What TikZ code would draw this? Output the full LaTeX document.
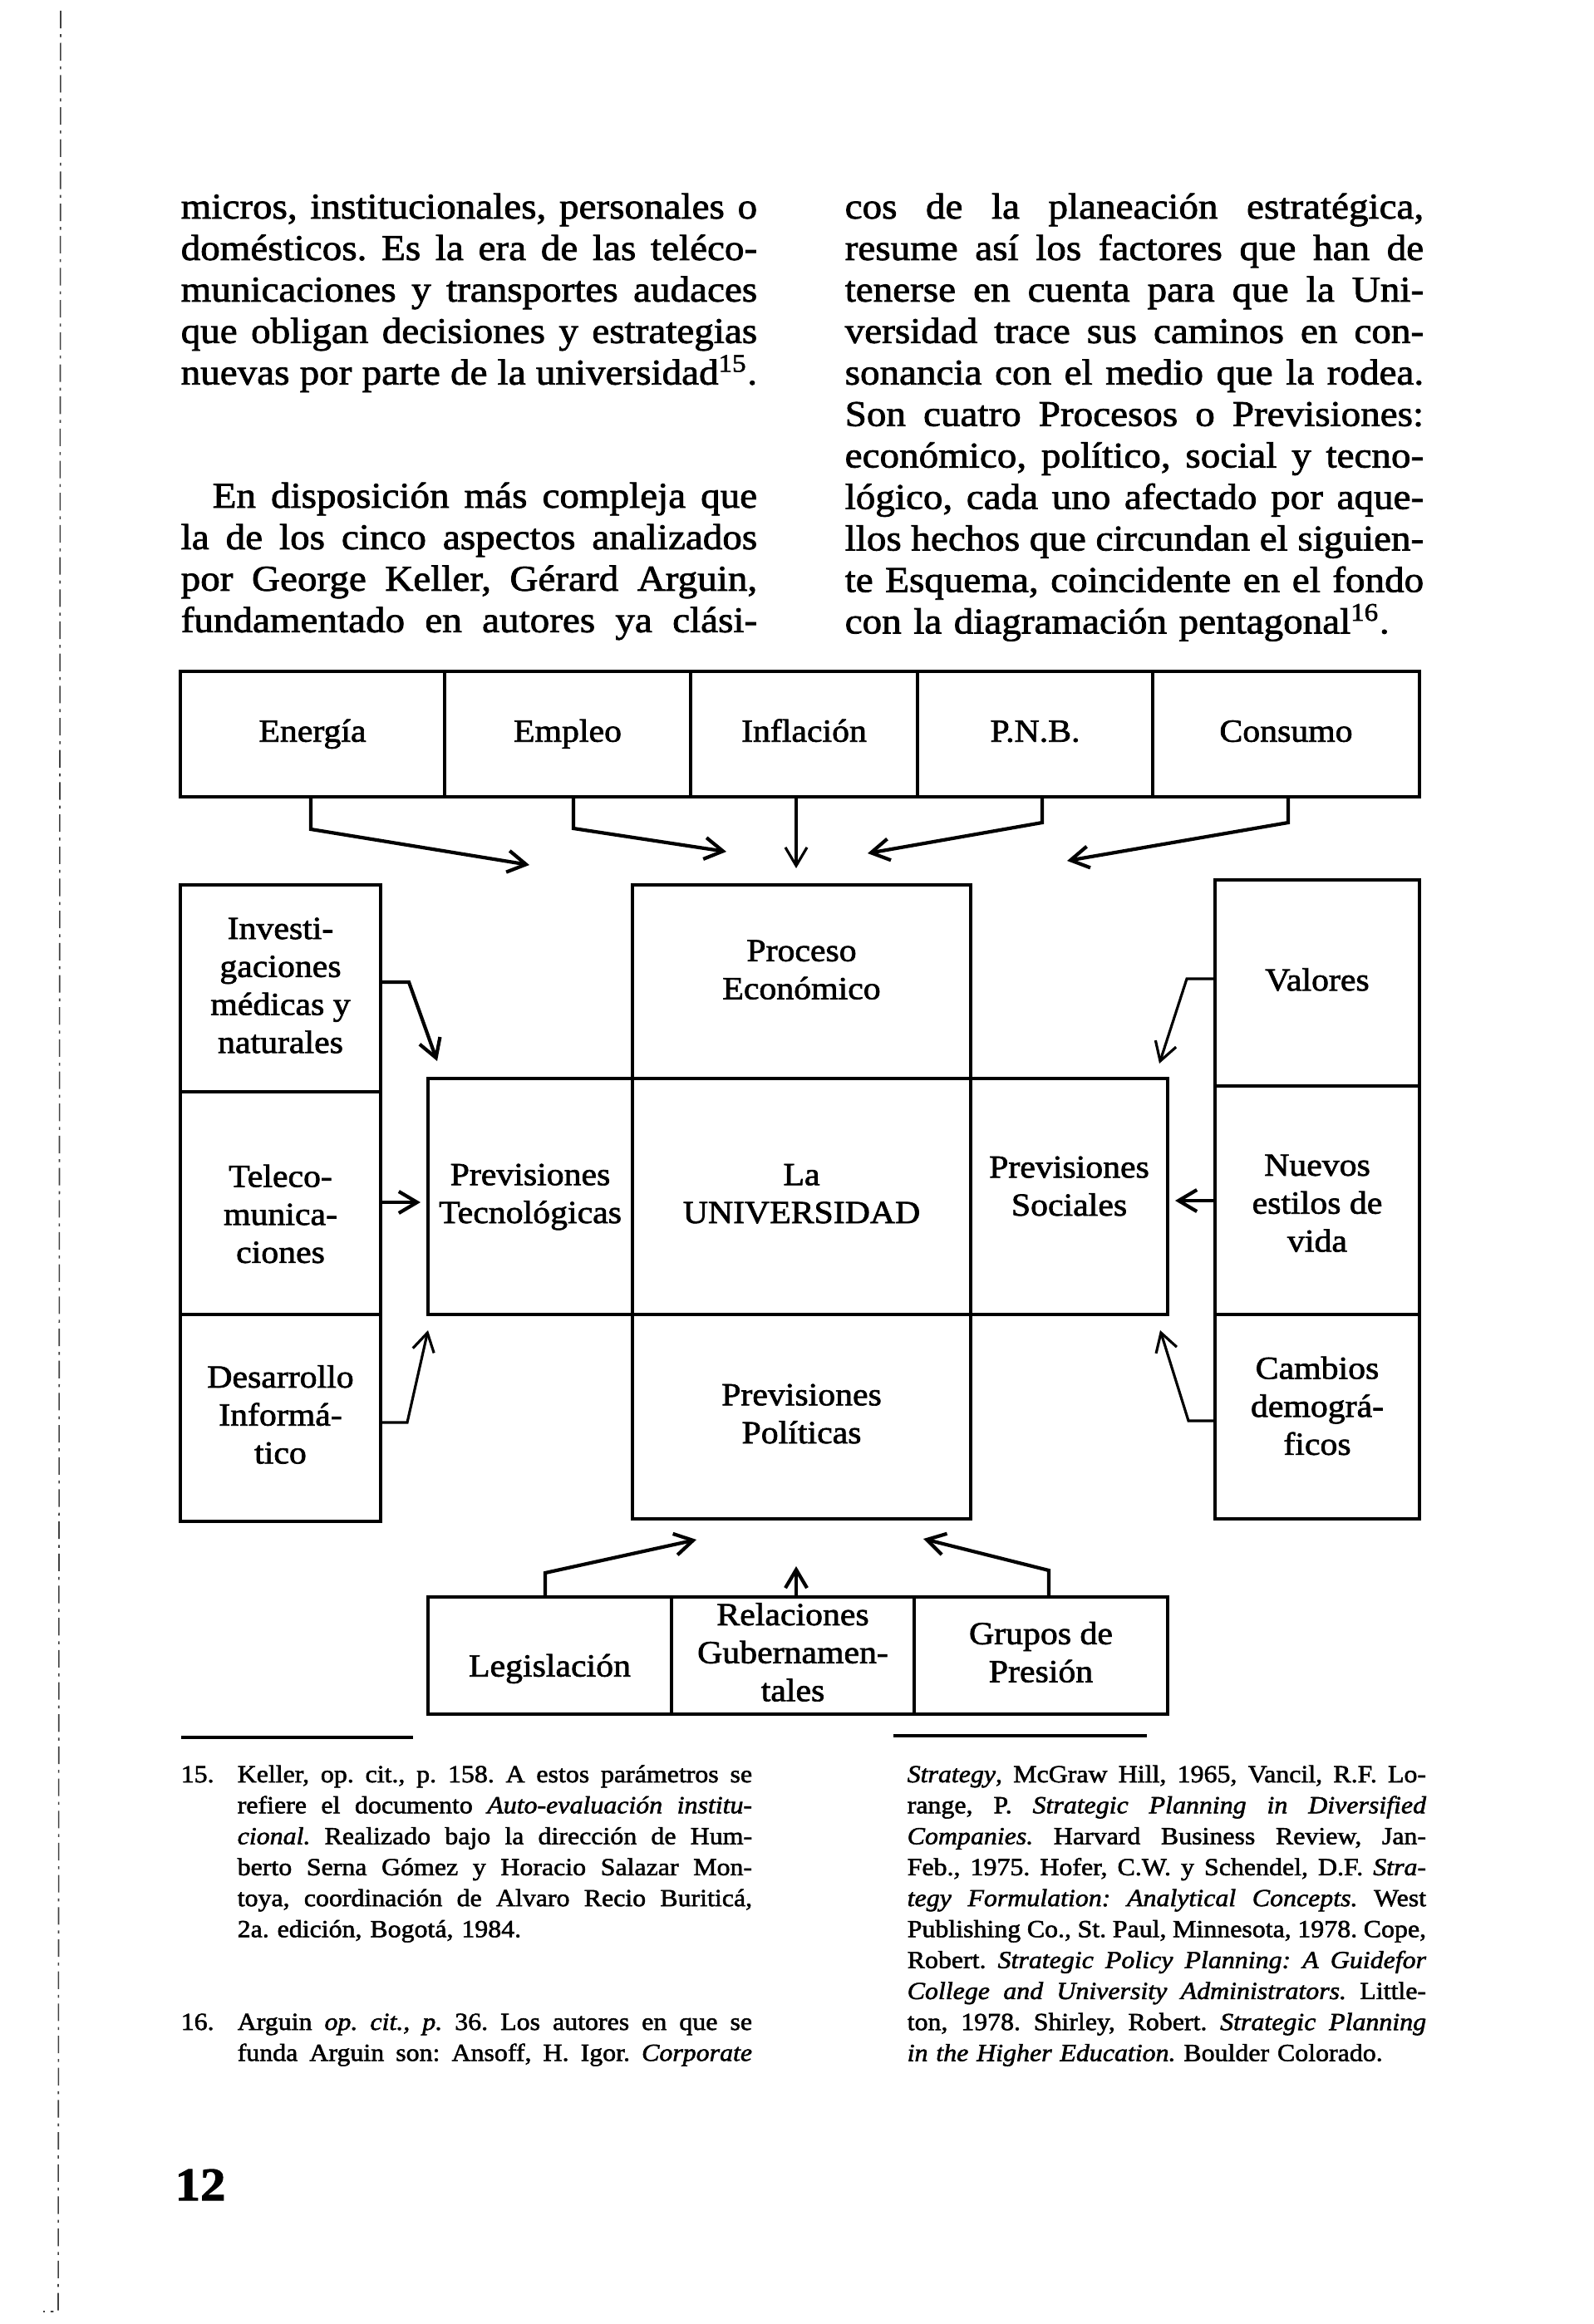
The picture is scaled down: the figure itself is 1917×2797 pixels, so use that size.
\documentclass[tikz,border=0pt]{standalone}
\usepackage{fontspec}
\setmainfont{Liberation Serif}[FakeStretch=1.08,FakeBold=1.8]
\usetikzlibrary{arrows.meta}
\newcommand\dgfont{\fontsize{11}{13}\selectfont}
\newcommand\bdfont{\fontsize{12.4}{14.2}\selectfont\frenchspacing}
\newcommand\ntfont{\fontsize{8.4}{10.6}\selectfont\frenchspacing}
\newlength\colw
\newcommand\jbox[1]{\makebox[\colw][s]{\spaceskip=.25em plus 1fil minus .1em\xspaceskip=\spaceskip #1}}
\newcommand\jline[1]{\jbox{#1}\\}
\newcommand\jlast[1]{\jbox{#1}}
% vertical fine-tuning of box texts
\newcommand\tup[1]{\rule[-\dimexpr 3.9pt+#1\relax]{0pt}{0pt}}
\newcommand\tdn[1]{\rule{0pt}{\dimexpr 9.1pt+#1\relax}}
\newcommand\placebox[6]{%
  \pgfmathsetmacro\bw{(#4-#2)*0.01}%
  \pgfmathsetmacro\bh{(#5-#3)*0.01}%
  \node[box, minimum width=\bw cm, minimum height=\bh cm] (#1) at ({(#2+#4)/2},{(#3+#5)/2}) {\strut#6\strut};}
\tikzset{
  box/.style={draw, line width=1pt, inner sep=0pt, align=center, font=\dgfont},
  conn/.style={line width=0.9pt, -{Straight Barb[length=2.2mm,width=2.6mm]}},
  thickconn/.style={conn, line width=1.2pt},
  bodytext/.style={anchor=base west, inner sep=0pt, align=left, font=\bdfont},
  notetext/.style={anchor=base west, inner sep=0pt, align=left, font=\ntfont},
  rule/.style={line width=1.1pt},
  margin/.style={line width=0.45pt, black!75, dash pattern=on 6pt off 2pt on 1pt off 2pt}
}
\begin{document}
\begin{tikzpicture}[x=0.01cm,y=-0.01cm]
\useasboundingbox (0,0) rectangle (1917,2797);

% margin line (scan edge)
\coordinate (m1) at (73,13);
\coordinate (m2) at (70,2782);
\coordinate (m3) at (52,2782);
\draw[margin] (m1) -- (m2) -- (m3);

% body text
\setlength\colw{6.93cm}
\node[bodytext, text width=6.93cm] (p1) at (217,263) {%
\jline{micros, institucionales, personales o}
\jline{domésticos. Es la era de las teléco-}
\jline{municaciones y transportes audaces}
\jline{que obligan decisiones y estrategias}
\jlast{nuevas por parte de la universidad\textsuperscript{15}.}};

\node[bodytext, text width=6.93cm] (p2) at (217,611) {%
\jline{\hspace*{0.38cm}En disposición más compleja que}
\jline{la de los cinco aspectos analizados}
\jline{por George Keller, Gérard Arguin,}
\jlast{fundamentado en autores ya clási-}};

\setlength\colw{6.96cm}
\node[bodytext, text width=6.96cm] (p3) at (1016,263) {%
\jline{cos de la planeación estratégica,}
\jline{resume así los factores que han de}
\jline{tenerse en cuenta para que la Uni-}
\jline{versidad trace sus caminos en con-}
\jline{sonancia con el medio que la rodea.}
\jline{Son cuatro Procesos o Previsiones:}
\jline{económico, político, social y tecno-}
\jline{lógico, cada uno afectado por aque-}
\jline{llos hechos que circundan el siguien-}
\jline{te Esquema, coincidente en el fondo}
con la diagramación pentagonal\textsuperscript{16}.};

% diagram boxes
\placebox{energia}{217}{808}{535}{959}{Energía}
\placebox{empleo}{535}{808}{831}{959}{Empleo}
\placebox{inflacion}{831}{808}{1104}{959}{Inflación}
\placebox{pnb}{1104}{808}{1387}{959}{P.N.B.}
\placebox{consumo}{1387}{808}{1708}{959}{Consumo}

\placebox{invest}{217}{1065}{458}{1314}{Investi-\\gaciones\\médicas y\\naturales}
\placebox{telecom}{217}{1314}{458}{1582}{\tdn{0.34cm}Teleco-\\munica-\\ciones}
\placebox{desarrollo}{217}{1582}{458}{1831}{Desarrollo\\Informá-\\tico}

\placebox{proceso}{761}{1065}{1168}{1298}{Proceso\\Económico\tup{0.22cm}}
\placebox{tec}{515}{1298}{761}{1582}{Previsiones\\Tecnológicas}
\placebox{univ}{761}{1298}{1168}{1582}{La\\UNIVERSIDAD}
\placebox{soc}{1168}{1298}{1405}{1582}{Previsiones\\Sociales\tup{0.18cm}}
\placebox{pol}{761}{1582}{1168}{1828}{Previsiones\\Políticas}

\placebox{valores}{1462}{1059}{1708}{1307}{Valores}
\placebox{nuevos}{1462}{1307}{1708}{1582}{\tdn{0.14cm}Nuevos\\estilos de\\vida}
\placebox{cambios}{1462}{1582}{1708}{1828}{Cambios\\demográ-\\ficos\tup{0.18cm}}

\placebox{legis}{515}{1922}{808}{2063}{\tdn{0.32cm}Legislación}
\placebox{relac}{808}{1922}{1100}{2063}{Relaciones\\Gubernamen-\\tales}
\placebox{grupos}{1100}{1922}{1405}{2063}{Grupos de\\Presión}

% connector bend points and free ends
\coordinate (a1b) at (374,998);  \coordinate (a1t) at (637,1041);
\coordinate (a2b) at (690,997);  \coordinate (a2t) at (874,1025);
\coordinate (a3t) at (958,1045);
\coordinate (a4b) at (1254,990); \coordinate (a4t) at (1044,1027);
\coordinate (a5b) at (1550,990); \coordinate (a5t) at (1284,1036);
\coordinate (a6b) at (492,1182); \coordinate (a6t) at (526,1277);
\coordinate (a7b) at (1428,1178); \coordinate (a7t) at (1395,1280);
\coordinate (a8t) at (506,1447);
\coordinate (a9t) at (1414,1445);
\coordinate (a10b) at (490,1712); \coordinate (a10t) at (515,1601);
\coordinate (a11b) at (1430,1710); \coordinate (a11t) at (1396,1601);
\coordinate (a12b) at (656,1893); \coordinate (a12t) at (838,1853);
\coordinate (a13t) at (958,1885);
\coordinate (a14b) at (1262,1890); \coordinate (a14t) at (1111,1852);

\draw[thickconn] (energia.south -| a1b) -- (a1b) -- (a1t);
\draw[thickconn] (empleo.south -| a2b) -- (a2b) -- (a2t);
\draw[conn] (inflacion.south -| a3t) -- (a3t);
\draw[thickconn] (pnb.south -| a4b) -- (a4b) -- (a4t);
\draw[thickconn] (consumo.south -| a5b) -- (a5b) -- (a5t);

\draw[thickconn] (invest.east |- a6b) -- (a6b) -- (a6t);
\draw[conn] (valores.west |- a7b) -- (a7b) -- (a7t);
\draw[thickconn] (telecom.east |- a8t) -- (a8t);
\draw[thickconn] (nuevos.west |- a9t) -- (a9t);
\draw[conn] (desarrollo.east |- a10b) -- (a10b) -- (a10t);
\draw[conn] (cambios.west |- a11b) -- (a11b) -- (a11t);

\draw[thickconn] (legis.north -| a12b) -- (a12b) -- (a12t);
\draw[thickconn] (relac.north -| a13t) -- (a13t);
\draw[thickconn] (grupos.north -| a14b) -- (a14b) -- (a14t);

% footnote rules
\coordinate (r1a) at (218,2091); \coordinate (r1b) at (497,2091);
\coordinate (r2a) at (1075,2089); \coordinate (r2b) at (1380,2089);
\draw[rule] (r1a) -- (r1b);
\draw[rule] (r2a) -- (r2b);

% footnotes
\setlength\colw{6.19cm}
\node[notetext] (n15) at (217,2145) {15.};
\node[notetext, text width=6.19cm] (f15) at (285,2145) {%
\jline{Keller, op. cit., p. 158. A estos parámetros se}
\jline{refiere el documento \textit{Auto-evaluación institu-}}
\jline{\textit{cional.} Realizado bajo la dirección de Hum-}
\jline{berto Serna Gómez y Horacio Salazar Mon-}
\jline{toya, coordinación de Alvaro Recio Buriticá,}
2a. edición, Bogotá, 1984.};

\node[notetext] (n16) at (217,2443) {16.};
\node[notetext, text width=6.19cm] (f16) at (285,2443) {%
\jline{Arguin \textit{op. cit., p.} 36. Los autores en que se}
\jlast{funda Arguin son: Ansoff, H. Igor. \textit{Corporate}}};

\setlength\colw{6.24cm}
\node[notetext, text width=6.24cm] (f16b) at (1091,2145) {%
\jline{\textit{Strategy}, McGraw Hill, 1965, Vancil, R.F. Lo-}
\jline{range, P. \textit{Strategic Planning in Diversified}}
\jline{\textit{Companies.} Harvard Business Review, Jan-}
\jline{Feb., 1975. Hofer, C.W. y Schendel, D.F. \textit{Stra-}}
\jline{\textit{tegy Formulation: Analytical Concepts.} West}
\jline{Publishing Co., St. Paul, Minnesota, 1978. Cope,}
\jline{Robert. \textit{Strategic Policy Planning: A Guidefor}}
\jline{\textit{College and University Administrators.} Little-}
\jline{ton, 1978. Shirley, Robert. \textit{Strategic Planning}}
\textit{in the Higher Education.} Boulder Colorado.};

% page number
\node[anchor=base west, inner sep=0pt, font=\fontsize{16}{16}\selectfont\bfseries] (pagenum) at (210,2648) {12};
\end{tikzpicture}
\end{document}
